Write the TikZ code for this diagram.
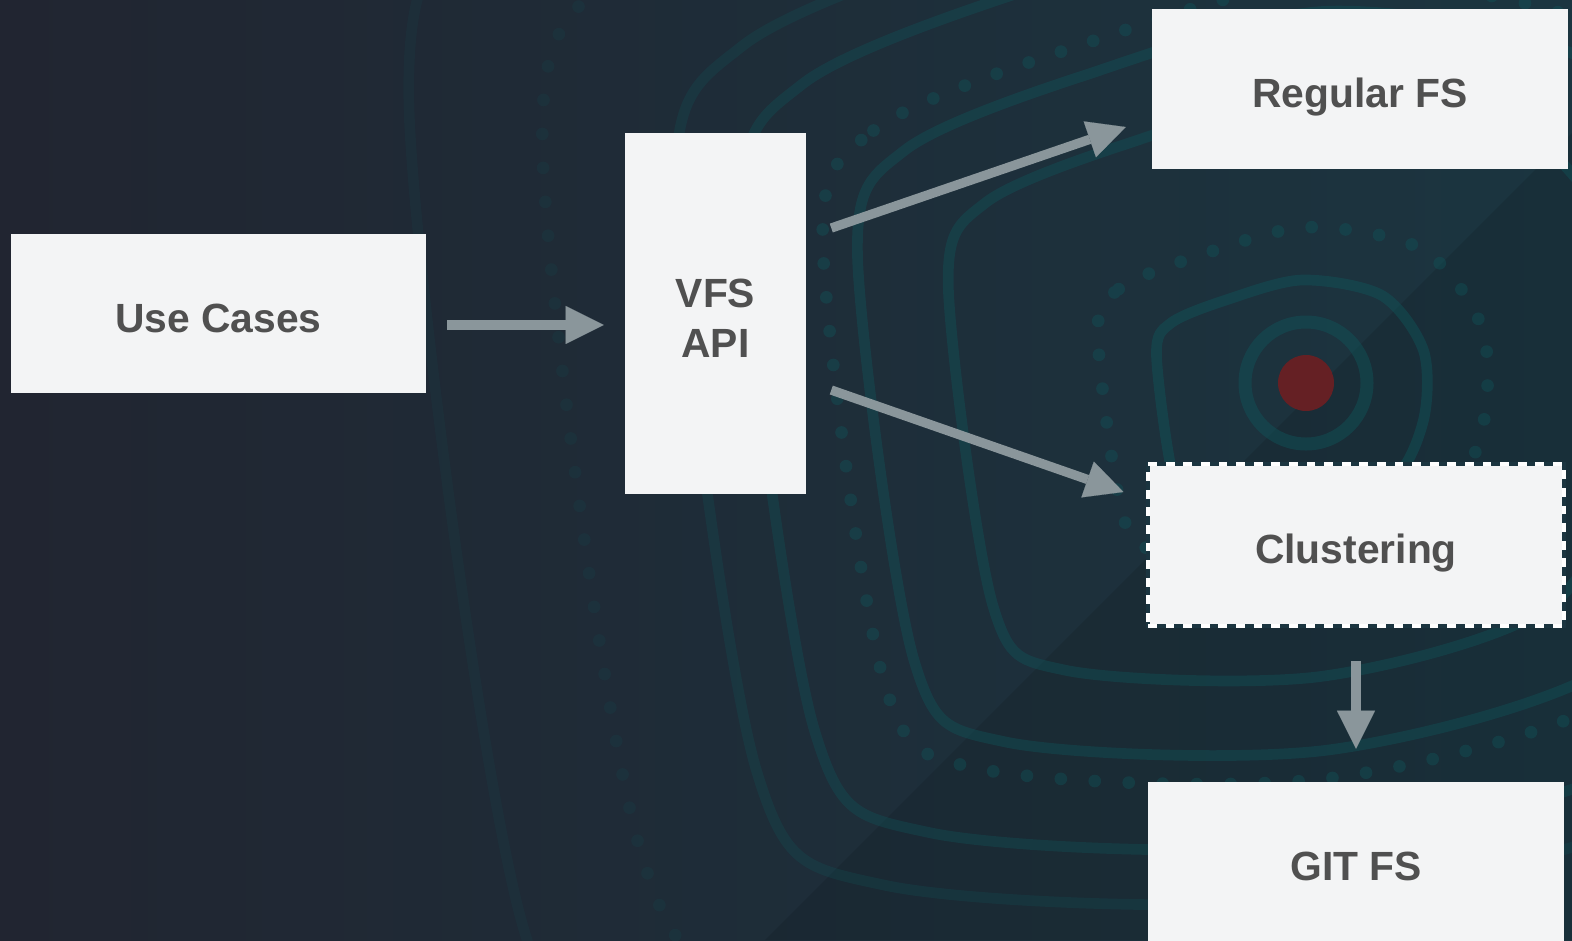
\documentclass[tikz,border=0pt]{standalone}
\usepackage{fontspec}
\setmainfont{Liberation Sans}
\usepackage{tikz}
\usetikzlibrary{arrows.meta,positioning}

\definecolor{bgleft}{HTML}{212531}
\definecolor{bgright}{HTML}{1B3540}
\definecolor{boxfill}{HTML}{F3F4F5}
\definecolor{boxtext}{HTML}{505050}
\definecolor{arrowgray}{HTML}{8A969B}
\definecolor{contourteal}{HTML}{0F555A}
\definecolor{reddot}{HTML}{652024}

\tikzset{
    box/.style={fill=boxfill, text=boxtext, inner sep=0pt, align=center,
        text height=27.8pt, text depth=0pt,
        font=\bfseries\fontsize{30.6}{37.5}\selectfont},
    dashbox/.style={box, draw=bgright, line width=3pt,
        postaction={draw=white, line width=3pt, dash pattern=on 6.6pt off 6.6pt}},
    flow/.style={draw=arrowgray, line width=7pt,
        -{Triangle[length=28.5pt,width=28.5pt,line width=0.1pt,fill=arrowgray]}},
    contourline/.style={draw=contourteal, line width=8pt},
    dotline/.style={draw=contourteal, line width=9.5pt, line cap=round, dash pattern=on 0pt off 25.5pt}
}

\begin{document}
\begin{tikzpicture}[x=0.75pt,y=-0.75pt]
        \useasboundingbox (0,0) rectangle (1572,940);
        \clip (0,0) rectangle (1572,940);
        \fill[left color=bgleft, right color=bgright] (0,0) rectangle (1572,940);
        \fill[black, opacity=0.1] (1572,133) -- (765,940) -- (1572,940) -- cycle;

        \foreach \s/\sty/\op in {0.5/contourline/0.45, 0.72/dotline/0.4, 1.28/contourline/0.4,
                1.62/contourline/0.4, 1.75/dotline/0.4, 2.05/contourline/0.35,
                2.3/contourline/0.25, 2.8/dotline/0.15, 3.3/contourline/0.12}
            \draw[\sty, opacity=\op, shift={(1290,400)}, scale=\s] plot[smooth cycle] coordinates
                {(-267,-90) (-238,-154) (-128,-200) (24,-240) (184,-209) (267,-99)
                 (267,40) (203,161) (24,216) (-176,211) (-232,161)};
        \draw[contourteal, opacity=0.45, line width=9.75pt] (1306,383) circle[radius=61];
        \fill[reddot] (1306,383) circle[radius=28];

        \node[box, minimum width=311.25pt, minimum height=119.25pt] at (218.5,313.5) (usecases){Use Cases};
        \node[box, text height=65.25pt, minimum width=135.75pt, minimum height=270.75pt]
            at (715.5,313.5) (vfs){VFS\\API};
        \node[box, minimum width=312pt, minimum height=120pt] at (1360,89) (regular){Regular FS};
        \node[dashbox, minimum width=312pt, minimum height=122pt] at (1356,545) (clustering){Clustering};
        \node[box, minimum width=312pt, minimum height=120pt] at (1356,862) (gitfs){GIT FS};

        \path
        ([xshift=15.75pt,yshift=-8.6pt]usecases.east) edge[flow] ([xshift=-15.75pt,yshift=-8.6pt]vfs.west)
        ([xshift=18.75pt,yshift=64.1pt]vfs.east) edge[flow] ([xshift=-19.5pt,yshift=-28.5pt]regular.west)
        ([xshift=18.75pt,yshift=-57.4pt]vfs.east) edge[flow] ([xshift=-16.9pt,yshift=39.75pt]clustering.west)
        ([yshift=-24.4pt]clustering.south) edge[flow] ([yshift=24.75pt]gitfs.north);
    \end{tikzpicture}
\end{document}
